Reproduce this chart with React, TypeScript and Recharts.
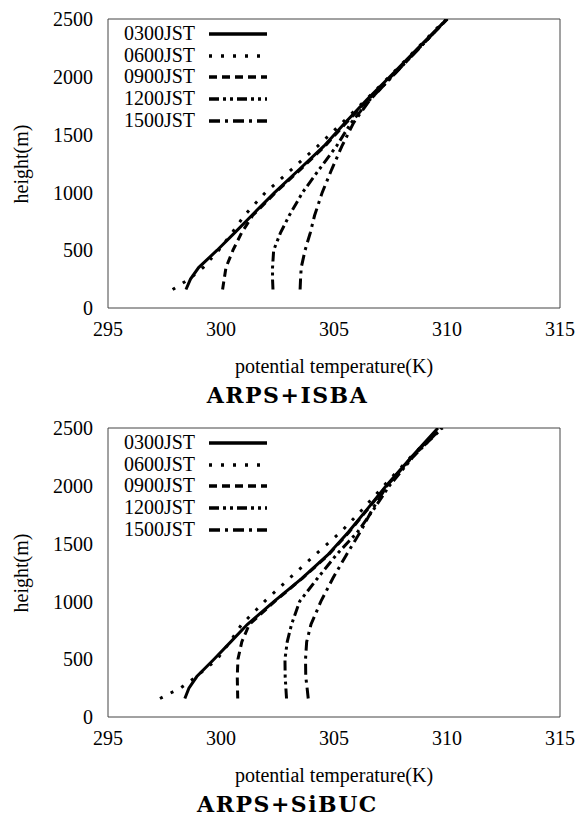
import React from 'react';
import { ScatterChart, Scatter, XAxis, YAxis, Legend } from 'recharts';

const HEIGHTS = [160, 250, 350, 500, 650, 800, 1000, 1200, 1400, 1600, 1800, 2000, 2250, 2500];
const TIMES = ['0300JST', '0600JST', '0900JST', '1200JST', '1500JST'];
const X_TICKS = [295, 300, 305, 310, 315];
const Y_TICKS = [0, 500, 1000, 1500, 2000, 2500];

// ARPS+ISBA, potential temperature (K) at each height
const ISBA_0300 = [298.45, 298.65, 299.01, 299.83, 300.6, 301.36, 302.38, 303.47, 304.55, 305.48, 306.45, 307.47, 308.73, 310.0];
const ISBA_0600 = [297.86, 298.59, 299.21, 299.9, 300.49, 301.03, 301.97, 303.13, 304.28, 305.35, 306.4, 307.44, 308.7, 309.95];
const ISBA_0900 = [300.07, 300.14, 300.22, 300.53, 300.91, 301.4, 302.42, 303.52, 304.6, 305.53, 306.5, 307.52, 308.77, 310.02];
const ISBA_1200 = [302.3, 302.28, 302.28, 302.33, 302.63, 303.02, 303.61, 304.35, 305.11, 305.75, 306.58, 307.56, 308.78, 310.0];
const ISBA_1500 = [303.5, 303.52, 303.55, 303.72, 303.95, 304.14, 304.48, 304.9, 305.35, 305.86, 306.59, 307.56, 308.78, 310.0];

// ARPS+SiBUC
const SIBUC_0300 = [298.4, 298.58, 298.93, 299.69, 300.43, 301.16, 302.35, 303.58, 304.71, 305.64, 306.48, 307.31, 308.43, 309.6];
const SIBUC_0600 = [297.3, 298.2, 298.91, 299.83, 300.4, 300.91, 301.93, 303.03, 304.15, 305.3, 306.28, 307.2, 308.4, 309.7];
const SIBUC_0900 = [300.74, 300.73, 300.72, 300.75, 300.92, 301.25, 302.38, 303.6, 304.74, 305.67, 306.5, 307.34, 308.46, 309.65];
const SIBUC_1200 = [302.9, 302.87, 302.84, 302.83, 302.93, 303.12, 303.48, 304.27, 305.09, 306.04, 306.77, 307.45, 308.5, 309.75];
const SIBUC_1500 = [303.86, 303.81, 303.75, 303.74, 303.79, 303.98, 304.42, 304.95, 305.54, 306.16, 306.71, 307.35, 308.45, 309.8];

const DASHES = ['', '3 9', '8 5', '10 4 3 4 3 4', '11 5 3 5'];
const SERIF = 'Liberation Serif';
const AXIS = '#444';

const toPoints = (temps: number[]) => temps.map((t, i) => ({ t, h: HEIGHTS[i] }));
const noDot = () => <g />;

const renderLegend = () => (
  <div style={{ fontFamily: SERIF, fontSize: 20, color: '#000' }}>
    {TIMES.map((name, i) => (
      <div key={name} style={{ display: 'flex', alignItems: 'center', height: 21.7 }}>
        <span style={{ width: 78, textAlign: 'right', lineHeight: '21.7px' }}>{name}</span>
        <svg width={74} height={10}>
          <line x1={14} x2={72} y1={5} y2={5} stroke="#000" strokeWidth={3.5} strokeDasharray={DASHES[i]} />
        </svg>
      </div>
    ))}
  </div>
);

type PanelProps = { title: string; series: number[][] };

const Panel = ({ title, series }: PanelProps) => (
  <div style={{ position: 'relative', width: 575, height: 409 }}>
    <ScatterChart width={575} height={345} margin={{ top: 19, right: 15, bottom: 0, left: 0 }}>
      <XAxis
        type="number"
        dataKey="t"
        domain={[295, 315]}
        ticks={X_TICKS}
        allowDataOverflow
        height={37}
        tickLine={false}
        tickSize={0}
        tickMargin={14}
        axisLine={{ stroke: AXIS }}
        tick={{ fill: '#000', fontSize: 20, fontFamily: SERIF }}
      />
      <XAxis xAxisId="bm" type="number" domain={[295, 315]} ticks={X_TICKS} orientation="bottom" mirror tick={false} tickSize={5} axisLine={false} tickLine={{ stroke: AXIS }} />
      <XAxis xAxisId="tm" type="number" domain={[295, 315]} ticks={X_TICKS} orientation="top" mirror tick={false} tickSize={5} axisLine={{ stroke: AXIS }} tickLine={{ stroke: AXIS }} />
      <YAxis
        type="number"
        dataKey="h"
        domain={[0, 2500]}
        ticks={Y_TICKS}
        allowDataOverflow
        width={108}
        tickLine={false}
        tickSize={0}
        tickMargin={15}
        axisLine={{ stroke: AXIS }}
        tick={{ fill: '#000', fontSize: 20, fontFamily: SERIF }}
      />
      <YAxis yAxisId="lm" type="number" domain={[0, 2500]} ticks={Y_TICKS} orientation="left" mirror tick={false} tickSize={5} axisLine={false} tickLine={{ stroke: AXIS }} />
      <YAxis yAxisId="rm" type="number" domain={[0, 2500]} ticks={Y_TICKS} orientation="right" mirror tick={false} tickSize={5} axisLine={{ stroke: AXIS }} tickLine={{ stroke: AXIS }} />
      <Legend
        layout="vertical"
        align="center"
        verticalAlign="middle"
        content={renderLegend}
        wrapperStyle={{ left: 117, top: 23, width: 160, height: 110 }}
      />
      {series.map((temps, i) => (
        <Scatter
          key={TIMES[i]}
          name={TIMES[i]}
          data={toPoints(temps)}
          fill="#000"
          shape={noDot}
          line={{ stroke: '#000', strokeWidth: 3, strokeDasharray: DASHES[i] }}
          lineType="joint"
          isAnimationActive={false}
        />
      ))}
    </ScatterChart>
    <div
      style={{
        position: 'absolute',
        left: 21,
        top: 163.5,
        transform: 'translate(-50%, -50%) rotate(-90deg)',
        whiteSpace: 'nowrap',
        fontFamily: SERIF,
        fontSize: 20,
      }}
    >
      height(m)
    </div>
    <div
      style={{
        position: 'absolute',
        left: 108,
        top: 354,
        width: 452,
        textAlign: 'center',
        lineHeight: '24px',
        fontFamily: SERIF,
        fontSize: 20,
      }}
    >
      potential temperature(K)
    </div>
    <div
      style={{
        position: 'absolute',
        left: 0,
        top: 384,
        width: 575,
        height: 22,
        textAlign: 'center',
        lineHeight: '22px',
        fontFamily: 'DejaVu Serif',
        fontWeight: 'bold',
        fontSize: 22,
        letterSpacing: 1.5,
        whiteSpace: 'nowrap',
      }}
    >
      {title}
    </div>
  </div>
);

export default function App() {
  return (
    <div style={{ position: 'absolute', left: 0, top: 0, width: 575, height: 818, background: '#fff' }}>
      <Panel title="ARPS+ISBA" series={[ISBA_0300, ISBA_0600, ISBA_0900, ISBA_1200, ISBA_1500]} />
      <Panel title="ARPS+SiBUC" series={[SIBUC_0300, SIBUC_0600, SIBUC_0900, SIBUC_1200, SIBUC_1500]} />
    </div>
  );
}
